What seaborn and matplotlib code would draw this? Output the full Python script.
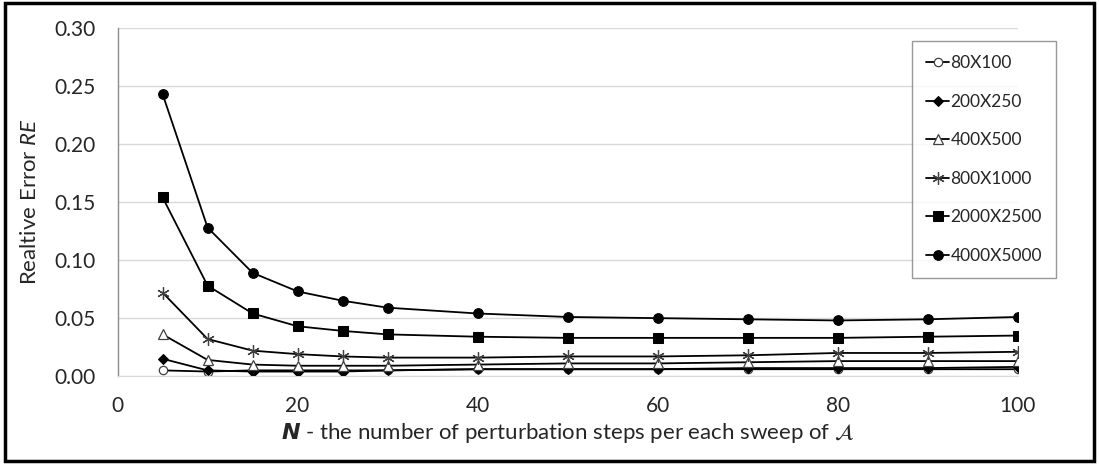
import numpy as np
import pandas as pd
import matplotlib
matplotlib.use("Agg")
import matplotlib.pyplot as plt
import seaborn as sns
from matplotlib.patches import Rectangle

steps = [5, 10, 15, 20, 25, 30, 40, 50, 60, 70, 80, 90, 100]
series_names = ["80X100", "200X250", "400X500", "800X1000", "2000X2500", "4000X5000"]
re_80x100 = [0.005, 0.004, 0.005, 0.005, 0.005, 0.005, 0.006, 0.006, 0.006, 0.006, 0.006, 0.006, 0.006]
re_200x250 = [0.015, 0.005, 0.004, 0.004, 0.004, 0.005, 0.006, 0.006, 0.006, 0.007, 0.007, 0.007, 0.008]
re_400x500 = [0.036, 0.014, 0.010, 0.009, 0.009, 0.009, 0.010, 0.011, 0.011, 0.012, 0.013, 0.013, 0.013]
re_800x1000 = [0.072, 0.032, 0.022, 0.019, 0.017, 0.016, 0.016, 0.017, 0.017, 0.018, 0.020, 0.020, 0.021]
re_2000x2500 = [0.154, 0.078, 0.054, 0.043, 0.039, 0.036, 0.034, 0.033, 0.033, 0.033, 0.033, 0.034, 0.035]
re_4000x5000 = [0.243, 0.128, 0.089, 0.073, 0.065, 0.059, 0.054, 0.051, 0.050, 0.049, 0.048, 0.049, 0.051]
series_values = [re_80x100, re_200x250, re_400x500, re_800x1000, re_2000x2500, re_4000x5000]

x_ticks = [0, 20, 40, 60, 80, 100]
y_ticks = [0.00, 0.05, 0.10, 0.15, 0.20, 0.25, 0.30]

sns.set_style("white")
plt.rcParams["font.family"] = ["Lato", "DejaVu Sans"]
plt.rcParams["mathtext.fontset"] = "custom"
plt.rcParams["mathtext.rm"] = "Lato"
plt.rcParams["mathtext.it"] = "Lato:italic"
plt.rcParams["mathtext.bf"] = "Lato:bold"
plt.rcParams["mathtext.bfit"] = "Lato:bold:italic"

fig = plt.figure(figsize=(10.99, 4.65), dpi=100)
ax = fig.add_axes([0.107, 0.191, 0.819, 0.749])

styles = [
    dict(marker="o", markersize=6, markerfacecolor="white", markeredgecolor="#404040", markeredgewidth=0.9),
    dict(marker="D", markersize=5, markerfacecolor="black", markeredgecolor="black"),
    dict(marker="^", markersize=6.5, markerfacecolor="white", markeredgecolor="#404040", markeredgewidth=0.9),
    dict(marker=(6, 2, 0), markersize=9, markeredgecolor="#404040", markeredgewidth=0.9),
    dict(marker="s", markersize=7, markerfacecolor="black", markeredgecolor="black"),
    dict(marker="o", markersize=7, markerfacecolor="black", markeredgecolor="black"),
]

for name, vals, st in zip(series_names, series_values, styles):
    df = pd.DataFrame({"N": steps, "RE": vals})
    sns.lineplot(data=df, x="N", y="RE", ax=ax, color="black", linewidth=1.3,
                 label=name, **st)

ax.set_xlim(0, 100)
ax.set_ylim(0, 0.30)
ax.set_xticks(x_ticks)
ax.set_yticks(y_ticks)
ax.set_yticklabels([f"{v:.2f}" for v in y_ticks])
ax.tick_params(axis="both", labelsize=15, length=0)
ax.tick_params(axis="y", pad=16)
ax.tick_params(axis="x", pad=14)
ax.yaxis.grid(True, color="#d9d9d9", linewidth=1)
ax.xaxis.grid(False)
for s in ["top", "right"]:
    ax.spines[s].set_visible(False)
ax.spines["left"].set_color("#8c8c8c")
ax.spines["bottom"].set_color("#d9d9d9")
ax.spines["left"].set_linewidth(1)

ax.set_ylabel("Realtive Error $RE$", fontsize=16, labelpad=10)
xl = ax.set_xlabel(r"$\mathbfit{N}$ - the number of perturbation steps per each sweep of $\mathcal{A}$",
                   fontsize=16, labelpad=4)
xl.set_math_fontfamily("dejavusans")

leg = ax.legend(loc="upper left", bbox_to_anchor=(0.883, 0.962), frameon=True, fancybox=False,
                edgecolor="#7f7f7f", fontsize=12.5, handlelength=1.3, handletextpad=0.1,
                labelspacing=1.3, borderpad=0.8, borderaxespad=0)
leg.get_frame().set_linewidth(1)

fig.patches.append(Rectangle((0.005, 0.008), 0.99, 0.985, transform=fig.transFigure,
                             fill=False, edgecolor="black", linewidth=2.5))

fig.savefig("out.png", dpi=100)
